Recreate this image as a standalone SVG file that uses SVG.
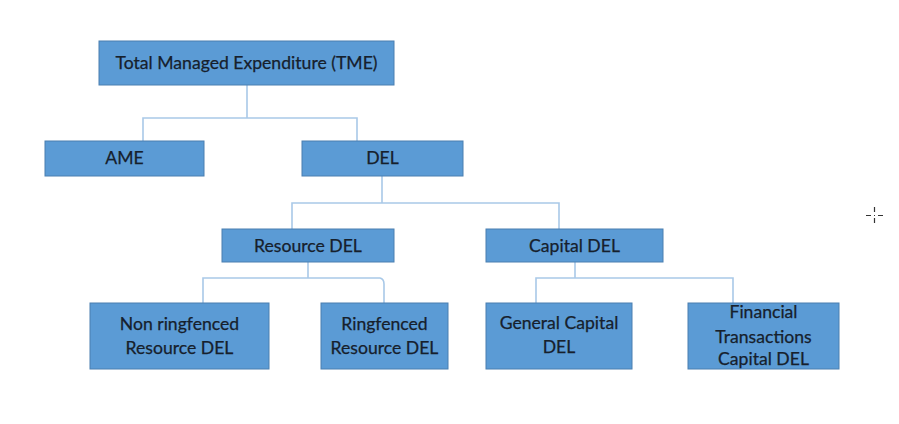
<svg xmlns="http://www.w3.org/2000/svg" width="899" height="424" viewBox="0 0 899 424">
<style>
.box{fill:#5B9BD5;stroke:#4A7FB0;stroke-width:1}
.lbl{font-family:Lato,"Open Sans",sans-serif;font-size:17.6px;fill:#16202C;stroke:#16202C;stroke-width:0.25;text-anchor:middle}
.con{fill:none;stroke:#A9C9E8;stroke-width:1.6}
</style>
<rect width="899" height="424" fill="#ffffff"/>
<g id="connectors">
<path class="con" d="M247,85 V118 M143,141 V118 H357 V141"/>
<path class="con" d="M382,176 V203 M292,229 V203 H559 V229"/>
<path class="con" d="M308,262 V278 M203,303 V278 H380 Q384,279 384,284 V303"/>
<path class="con" d="M575,262 V278 M536,303 V278 H733 V303"/>
</g>
<g id="tme"><rect class="box" x="99" y="41" width="295" height="44"/><text class="lbl" x="246.5" y="69">Total Managed Expenditure (TME)</text></g>
<g id="ame"><rect class="box" x="45" y="141" width="159" height="35"/><text class="lbl" x="124.5" y="164">AME</text></g>
<g id="del"><rect class="box" x="302" y="141" width="161" height="35"/><text class="lbl" x="382.5" y="164">DEL</text></g>
<g id="resource-del"><rect class="box" x="222" y="229" width="172" height="33"/><text class="lbl" x="308" y="252">Resource DEL</text></g>
<g id="capital-del"><rect class="box" x="486" y="229" width="177" height="33"/><text class="lbl" x="574.5" y="252">Capital DEL</text></g>
<g id="non-ringfenced"><rect class="box" x="90" y="303" width="179" height="66"/><text class="lbl" x="179.5" y="330">Non ringfenced</text><text class="lbl" x="179.5" y="354">Resource DEL</text></g>
<g id="ringfenced"><rect class="box" x="321" y="303" width="127" height="66"/><text class="lbl" x="384.5" y="330">Ringfenced</text><text class="lbl" x="384.5" y="354">Resource DEL</text></g>
<g id="general-capital"><rect class="box" x="486" y="303" width="146" height="66"/><text class="lbl" x="559" y="329">General Capital</text><text class="lbl" x="559" y="353">DEL</text></g>
<g id="financial-transactions"><rect class="box" x="688" y="303" width="151" height="66"/><text class="lbl" x="763.5" y="318">Financial</text><text class="lbl" x="763.5" y="343">Transactions</text><text class="lbl" x="763.5" y="365">Capital DEL</text></g>
<g id="cursor" stroke="#333" stroke-width="1.2" fill="none">
<path d="M866,215.5 H871 M878,215.5 H883 M874.5,207 V212 M874.5,218 V223"/>
<rect x="874" y="215" width="1" height="1" fill="#333" stroke="none"/>
</g>
</svg>
